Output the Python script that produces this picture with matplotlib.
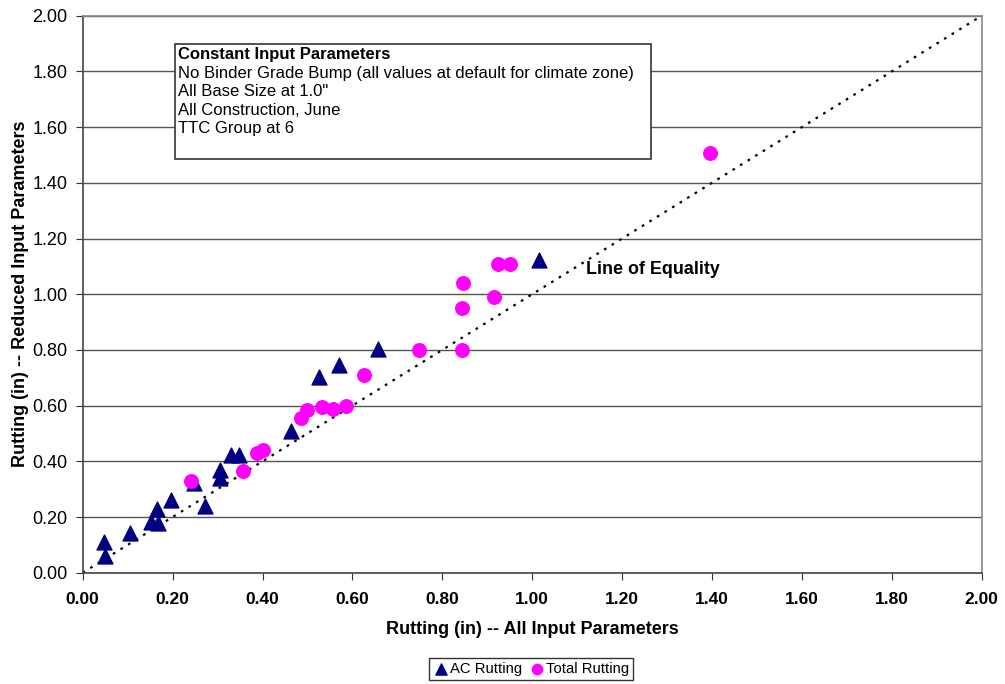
import matplotlib
matplotlib.use("Agg")
import matplotlib.pyplot as plt
from matplotlib.patches import Rectangle

plt.rcParams['font.family'] = ['Liberation Sans', 'DejaVu Sans']

ac_x = [0.047, 0.049, 0.106, 0.153, 0.166, 0.168, 0.197, 0.247, 0.272, 0.306, 0.306,
        0.331, 0.348, 0.464, 0.525, 0.571, 0.658, 1.015]
ac_y = [0.111, 0.059, 0.141, 0.183, 0.227, 0.179, 0.261, 0.321, 0.239, 0.369, 0.339,
        0.423, 0.423, 0.509, 0.703, 0.746, 0.803, 1.124]

tot_x = [0.240, 0.356, 0.387, 0.400, 0.485, 0.500, 0.532, 0.556, 0.586, 0.626,
         0.749, 0.843, 0.846, 0.843, 0.914, 0.923, 0.951, 1.395]
tot_y = [0.330, 0.366, 0.429, 0.441, 0.557, 0.585, 0.594, 0.587, 0.599, 0.710,
         0.800, 0.950, 1.040, 0.798, 0.990, 1.110, 1.110, 1.508]

equality = [0.0, 2.0]
ticks = [0.0, 0.2, 0.4, 0.6, 0.8, 1.0, 1.2, 1.4, 1.6, 1.8, 2.0]
box_lines = ["No Binder Grade Bump (all values at default for climate zone)",
             "All Base Size at 1.0\"",
             "All Construction, June",
             "TTC Group at 6"]

fig = plt.figure(figsize=(10.05, 6.84), dpi=100)
ax = fig.add_axes([0.0823, 0.1627, 0.9768 - 0.0823, 0.977 - 0.1627])
ax.set_xlim(0, 2)
ax.set_ylim(0, 2)
ax.set_xticks(ticks)
ax.set_yticks(ticks)
ax.set_xticklabels([f"{t:.2f}" for t in ticks], fontweight='bold', fontsize=12.5)
ax.set_yticklabels([f"{t:.2f}" for t in ticks], fontsize=13)
ax.tick_params(axis='both', direction='out', length=5, color='#333333')
ax.tick_params(axis='x', pad=9)
ax.tick_params(axis='y', pad=6)
ax.grid(axis='y', color='#555555', linewidth=1.0)
ax.set_axisbelow(True)
for s in ['left', 'bottom']:
    ax.spines[s].set_color('#444444')
    ax.spines[s].set_linewidth(1.2)
for s in ['top', 'right']:
    ax.spines[s].set_color('#888888')
    ax.spines[s].set_linewidth(1.2)

ax.plot(equality, equality, color='black', linestyle=(0, (1.2, 2.8)), linewidth=1.6, zorder=2)

ax.scatter(ac_x, ac_y, marker='^', s=115, color='#000080', zorder=3, label='AC Rutting')
ax.scatter(tot_x, tot_y, marker='o', s=95, color='#ff00ff', zorder=4, label='Total Rutting')

ax.text(1.12, 1.088, "Line of Equality", fontsize=12.9, fontweight='bold', ha='left', va='center')

rect = Rectangle((0.205, 1.484), 1.265 - 0.205, 1.90 - 1.484, facecolor='white',
                 edgecolor='#333333', linewidth=1.2, zorder=5)
ax.add_patch(rect)
ax.text(0.213, 1.886, "Constant Input Parameters", fontsize=12, fontweight='bold',
        ha='left', va='top', zorder=6)
for i, line in enumerate(box_lines):
    ax.text(0.213, 1.886 - (i + 1) * 0.066, line, fontsize=12, ha='left', va='top', zorder=6)

ax.set_xlabel("Rutting (in) -- All Input Parameters", fontsize=13, fontweight='bold', labelpad=10)
ax.set_ylabel("Rutting (in) -- Reduced Input Parameters", fontsize=13, fontweight='bold', labelpad=2)

leg = fig.legend(loc='center', bbox_to_anchor=(531 / 1005, 1 - 669 / 684), ncol=2,
                 frameon=True, fancybox=False, edgecolor='black', fontsize=10.7,
                 handletextpad=0.1, columnspacing=0.5, borderpad=0.3, markerscale=0.75,
                 handlelength=1.0)
leg.get_frame().set_linewidth(1.0)

fig.savefig("out.png", dpi=100)
